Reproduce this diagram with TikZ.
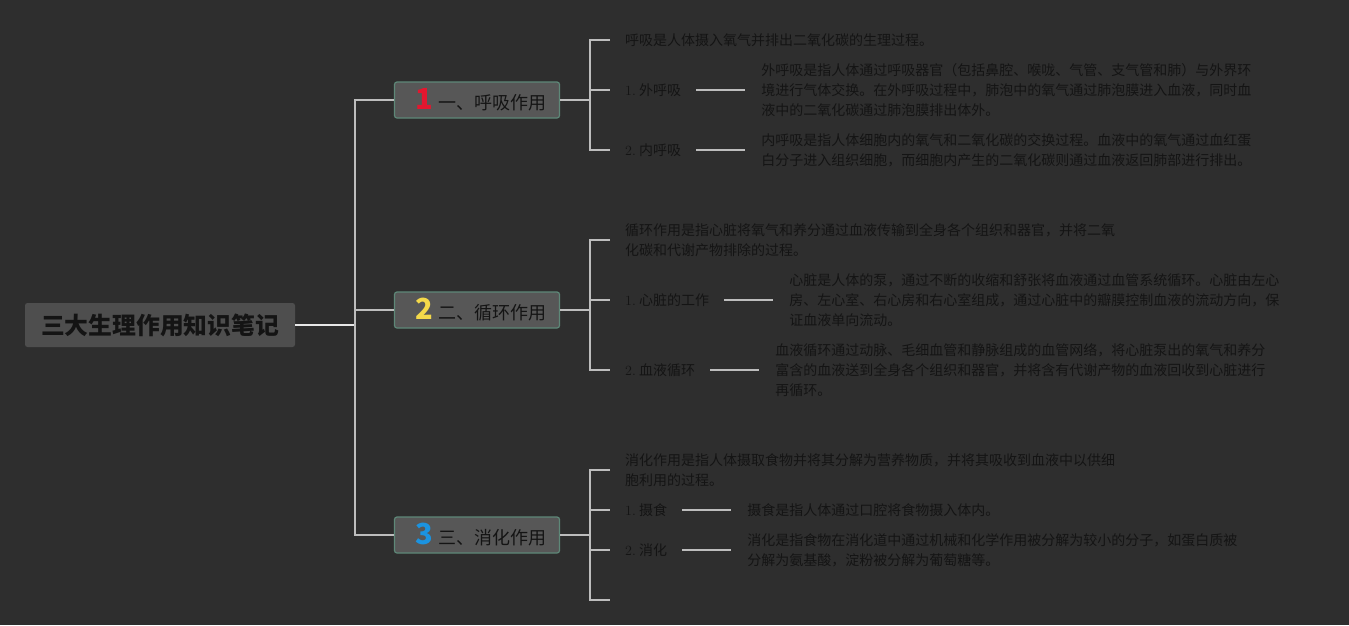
\documentclass[tikz,border=0pt]{standalone}
\usepackage{fontspec}
\usepackage{xcolor}
\usetikzlibrary{positioning,calc}
\newfontfamily\cjk{Noto Sans CJK SC}
\definecolor{bg}{HTML}{2E2E2E}
\definecolor{ink}{HTML}{141414}
\definecolor{wire}{HTML}{BDBDBD}
\definecolor{wireHi}{HTML}{E8E8E8}
\definecolor{rootFill}{HTML}{4E4E4E}
\definecolor{topicFill}{HTML}{575757}
\definecolor{topicEdge}{HTML}{5E8878}
\definecolor{numRed}{HTML}{E3172F}
\definecolor{numYellow}{HTML}{F4D94A}
\definecolor{numBlue}{HTML}{1B93E0}
\tikzset{
  root/.style={fill=rootFill, rounded corners=2.5pt, minimum width=270pt, minimum height=44pt, inner sep=0pt, font=\cjk\fontsize{23.8}{28}\selectfont\bfseries, text=ink},
  topic/.style={draw=topicEdge, fill=topicFill, line width=1.2pt, rounded corners=2.5pt, minimum width=165pt, minimum height=36pt, inner sep=0pt, font=\cjk\fontsize{18}{22}\selectfont, text=ink},
  leaf/.style={inner sep=0pt, anchor=west, align=left, font=\cjk\fontsize{14}{20}\selectfont, text=ink},
  desc/.style={leaf},
  wire/.style={draw=wire, line width=1.6pt},
  wirehi/.style={draw=wireHi, line width=1.8pt},
}
\newcommand\topicnum[2]{\hspace{8pt}\textcolor{#1}{\fontsize{29}{29}\selectfont\bfseries #2}\hspace{5pt}}
\newcommand\itemno[1]{{\rmfamily #1}\ }

\begin{document}
\begin{tikzpicture}[x=1pt, y=-1pt]
  \fill[bg] (0,0) rectangle (1349,625);

  \node[root] (root) at (160,325) {三大生理作用知识笔记};
  \coordinate (trunk) at (355,325);

  \node[topic] (t1) at (477,100) {\topicnum{numRed}{1}一、呼吸作用};
  \node[topic] (t2) at (477,310) {\topicnum{numYellow}{2}二、循环作用};
  \node[topic] (t3) at (477,535) {\topicnum{numBlue}{3}三、消化作用};

  \draw[wirehi] (root.east) -- (trunk);
  \draw[wire] (t1.west) -| (trunk) |- (t3.west);
  \draw[wire] (t2.west) -- (t2.west -| trunk);

  % 呼吸
  \node[leaf] (l11) at (625,40) {呼吸是人体摄入氧气并排出二氧化碳的生理过程。};
  \node[leaf] (l12) at (625,90) {\itemno{1.}外呼吸};
  \node[desc, right=80pt of l12] (d12) {外呼吸是指人体通过呼吸器官（包括鼻腔、喉咙、气管、支气管和肺）与外界环\\境进行气体交换。在外呼吸过程中，肺泡中的氧气通过肺泡膜进入血液，同时血\\液中的二氧化碳通过肺泡膜排出体外。};
  \node[leaf] (l13) at (625,150) {\itemno{2.}内呼吸};
  \node[desc, right=80pt of l13] (d13) {内呼吸是指人体细胞内的氧气和二氧化碳的交换过程。血液中的氧气通过血红蛋\\白分子进入组织细胞，而细胞内产生的二氧化碳则通过血液返回肺部进行排出。};

  % 循环
  \node[leaf] (l21) at (625,240) {循环作用是指心脏将氧气和养分通过血液传输到全身各个组织和器官，并将二氧\\化碳和代谢产物排除的过程。};
  \node[leaf] (l22) at (625,300) {\itemno{1.}心脏的工作};
  \node[desc, right=80pt of l22] (d22) {心脏是人体的泵，通过不断的收缩和舒张将血液通过血管系统循环。心脏由左心\\房、左心室、右心房和右心室组成，通过心脏中的瓣膜控制血液的流动方向，保\\证血液单向流动。};
  \node[leaf] (l23) at (625,370) {\itemno{2.}血液循环};
  \node[desc, right=80pt of l23] (d23) {血液循环通过动脉、毛细血管和静脉组成的血管网络，将心脏泵出的氧气和养分\\富含的血液送到全身各个组织和器官，并将含有代谢产物的血液回收到心脏进行\\再循环。};

  % 消化
  \node[leaf] (l31) at (625,470) {消化作用是指人体摄取食物并将其分解为营养物质，并将其吸收到血液中以供细\\胞利用的过程。};
  \node[leaf] (l32) at (625,510) {\itemno{1.}摄食};
  \node[desc, right=80pt of l32] (d32) {摄食是指人体通过口腔将食物摄入体内。};
  \node[leaf] (l33) at (625,550) {\itemno{2.}消化};
  \node[desc, right=80pt of l33] (d33) {消化是指食物在消化道中通过机械和化学作用被分解为较小的分子，如蛋白质被\\分解为氨基酸，淀粉被分解为葡萄糖等。};
  \coordinate (l34) at (625,600);

  % brackets
  \draw[wire] (t1.east) -- ++(30,0) coordinate (j1);
  \draw[wire] ([xshift=20pt]j1 |- l11.west) -- (j1 |- l11.west) -- (j1 |- l13.west) -- ++(20,0);
  \draw[wire] (j1 |- l12.west) -- ++(20,0);
  \draw[wire] (t2.east) -- ++(30,0) coordinate (j2);
  \draw[wire] ([xshift=20pt]j2 |- l21.west) -- (j2 |- l21.west) -- (j2 |- l23.west) -- ++(20,0);
  \draw[wire] (j2 |- l22.west) -- ++(20,0);
  \draw[wire] (t3.east) -- ++(30,0) coordinate (j3);
  \draw[wire] ([xshift=20pt]j3 |- l31.west) -- (j3 |- l31.west) -- (j3 |- l34) -- ++(20,0);
  \foreach \n in {l32,l33} \draw[wire] (j3 |- \n.west) -- ++(20,0);

  % item to text
  \foreach \n/\d in {l12/d12,l13/d13,l22/d22,l23/d23,l32/d32,l33/d33}
    \draw[wire] ([xshift=15pt]\n.east) -- ([xshift=-16pt]\d.west);
\end{tikzpicture}
\end{document}
